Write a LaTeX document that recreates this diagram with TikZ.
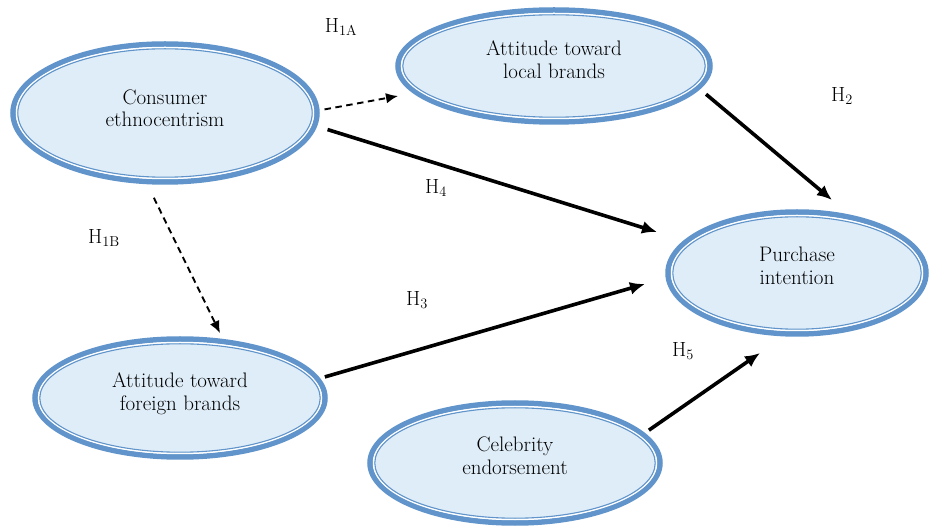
\documentclass[tikz,border=0pt]{standalone}
\usepackage{fontspec}
\usetikzlibrary{arrows.meta,shapes.geometric}
\definecolor{ringblue}{RGB}{96,148,202}
\definecolor{fillblue}{RGB}{223,237,248}
\tikzset{
  oval/.style n args={3}{ellipse, minimum width=#1, minimum height=#2, text depth=#3,
    inner sep=0pt, draw=ringblue, line width=5.5pt, fill=fillblue, align=center,
    font=\fontsize{21}{22.5}\selectfont},
  hyp/.style={inner sep=0pt, font=\fontsize{20.5}{22}\selectfont},
  solidarrow/.style={line width=3.6pt, -{Latex[length=15pt,width=13pt]}},
  dasharrow/.style={line width=1.9pt, dash pattern=on 6.5pt off 4.5pt, -{Latex[length=12pt,width=10.5pt]}},
  whitering/.style={white, line width=1.5pt},
  thinring/.style={ringblue, line width=1.1pt}
}
\newcommand{\innerring}[3]{%
  \draw[whitering] (#1.center) ellipse [x radius=#2-3.5, y radius=#3-3.5];
  \draw[thinring] (#1.center) ellipse [x radius=#2-4.8, y radius=#3-4.8];}
\begin{document}
\begin{tikzpicture}[x=1pt,y=-1pt]
\useasboundingbox (0,0) rectangle (930,529);
% nodes
\node[oval={304pt}{138pt}{10pt}] (ce) at (165,113) {Consumer\\ethnocentrism};
\node[oval={312pt}{112pt}{13pt}] (ll) at (554,66) {Attitude toward\\local brands};
\node[oval={258pt}{122pt}{15pt}] (pi) at (797,273) {Purchase\\intention};
\node[oval={290pt}{118pt}{13pt}] (fb) at (180,398) {Attitude toward\\foreign brands};
\node[oval={290pt}{120pt}{15pt}] (cel) at (515,463) {Celebrity\\endorsement};
\innerring{ce}{152}{69}
\innerring{ll}{156}{56}
\innerring{pi}{129}{61}
\innerring{fb}{145}{59}
\innerring{cel}{145}{60}
% arrow tips
\coordinate (t1a) at (398,96);
\coordinate (t4) at (657,232);
\coordinate (t2) at (832,200);
\coordinate (t1b) at (220,333);
\coordinate (t3) at (645,284);
\coordinate (t5) at (760,353);
% connectors
\draw[dasharrow, shorten <=5pt] (ce.1) -- (t1a);
\draw[solidarrow, shorten <=11pt] (ce.-5) -- (t4);
\draw[solidarrow, shorten <=8pt] (ll.-9) -- (t2);
\draw[dasharrow, shorten <=15pt] (ce.-104) -- (t1b);
\draw[solidarrow, shorten <=5pt] (fb.8) -- (t3);
\draw[solidarrow, shorten <=5pt] (cel.13) -- (t5);
% labels
\node[hyp] (h1a) at (341,27) {H\textsubscript{1A}};
\node[hyp] (h2) at (842,96) {H\textsubscript{2}};
\node[hyp] (h4) at (436,188) {H\textsubscript{4}};
\node[hyp] (h1b) at (104,238) {H\textsubscript{1B}};
\node[hyp] (h3) at (417,300) {H\textsubscript{3}};
\node[hyp] (h5) at (683,351) {H\textsubscript{5}};
\end{tikzpicture}
\end{document}
